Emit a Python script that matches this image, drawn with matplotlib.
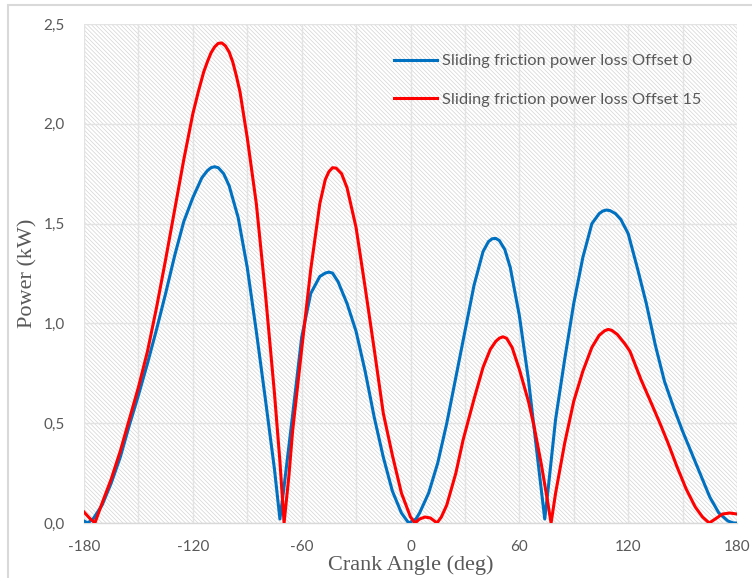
import matplotlib
matplotlib.use("Agg")
import matplotlib.pyplot as plt
from matplotlib.patches import Rectangle

# crank angle (deg) and sliding friction power loss (kW)
angle_off0 = [-180, -178, -175, -170, -165, -160, -155, -150, -145, -140, -135, -130,
              -125, -120, -115, -112, -110, -108, -106, -103, -100, -95, -90, -85, -80, -75,
              -72, -70, -65, -60, -55, -50, -47, -45, -43, -40, -35, -30, -25, -20, -15, -10,
              -5, -1, 3, 5, 10, 15, 20, 25, 30, 35, 40, 43, 45, 47, 49, 52, 55, 60, 65, 70,
              74, 76, 80, 85, 90, 95, 100, 104, 106, 108, 110, 113, 116, 120, 125, 130, 135, 140,
              145, 150, 155, 160, 165, 170, 175, 178, 180]
power_off0 = [0.01, 0.0, 0.02, 0.09, 0.2, 0.33, 0.49, 0.64, 0.8, 0.97, 1.15, 1.34,
              1.51, 1.63, 1.73, 1.765, 1.78, 1.785, 1.78, 1.75, 1.69, 1.53, 1.28, 0.96, 0.62, 0.27,
              0.02, 0.16, 0.54, 0.93, 1.15, 1.235, 1.252, 1.257, 1.252, 1.21, 1.1, 0.96, 0.76, 0.53, 0.33, 0.16,
              0.05, 0.0, 0.02, 0.05, 0.15, 0.3, 0.5, 0.73, 0.96, 1.19, 1.36, 1.41, 1.424, 1.426, 1.415, 1.37, 1.28, 1.04, 0.72, 0.33,
              0.02, 0.18, 0.52, 0.82, 1.1, 1.33, 1.5, 1.55, 1.563, 1.568, 1.565, 1.55, 1.52, 1.45, 1.28, 1.1, 0.89, 0.71,
              0.58, 0.46, 0.35, 0.24, 0.13, 0.05, 0.01, 0.0, 0.0]

angle_off15 = [-180, -177, -174, -170, -165, -160, -155, -150, -145, -140, -135, -130,
               -125, -120, -117, -114, -112, -110, -108, -106, -104, -102, -100, -98, -96, -94,
               -90, -85, -80, -75, -72, -69.7, -67, -65, -60, -55, -50, -47, -45, -43, -41, -38,
               -35, -30, -25, -20, -15, -10, -5, 0, 2.5, 5, 8, 11, 14.6, 17, 20, 25, 29, 35, 40,
               44, 47, 49, 51, 53, 56, 60, 65, 68, 72, 75, 77.5, 80, 85, 90, 95, 100, 104, 107,
               109, 111, 114, 118, 121, 127, 132, 137.5, 142, 147, 152, 157, 161, 164.7, 168,
               172, 176, 180]
power_off15 = [0.055, 0.025, 0.0, 0.1, 0.22, 0.36, 0.52, 0.68, 0.86, 1.08, 1.32, 1.57,
               1.82, 2.05, 2.16, 2.26, 2.31, 2.355, 2.385, 2.403, 2.405, 2.39, 2.36, 2.31, 2.24, 2.16,
               1.93, 1.6, 1.15, 0.65, 0.31, 0.0, 0.24, 0.46, 0.87, 1.27, 1.6, 1.72, 1.76, 1.78, 1.778, 1.75,
               1.68, 1.48, 1.18, 0.87, 0.55, 0.34, 0.15, 0.03, 0.0, 0.02, 0.03, 0.025, 0.0, 0.03, 0.09, 0.25, 0.416, 0.62, 0.78,
               0.87, 0.91, 0.926, 0.933, 0.925, 0.88, 0.77, 0.61, 0.49, 0.3, 0.14, 0.0, 0.15, 0.4, 0.61, 0.76, 0.88, 0.94, 0.963,
               0.97, 0.965, 0.945, 0.9, 0.86, 0.72, 0.616, 0.5, 0.4, 0.28, 0.17, 0.08, 0.03, 0.0, 0.02,
               0.045, 0.05, 0.045]

xticks = [-180, -120, -60, 0, 60, 120, 180]
yticks = [0.0, 0.5, 1.0, 1.5, 2.0, 2.5]
ytick_labels = ["0,0", "0,5", "1,0", "1,5", "2,0", "2,5"]
labels = ["Sliding friction power loss Offset 0", "Sliding friction power loss Offset 15"]

plt.rcParams["hatch.linewidth"] = 0.5
plt.rcParams["hatch.color"] = "#d4d4d4"

fig = plt.figure(figsize=(7.52, 5.78), dpi=100)
ax = fig.add_axes([84 / 752, 1 - 523 / 578, (737 - 84) / 752, (523 - 24) / 578])

# outer chart border (left and top visible)
fig.patches.append(Rectangle((8 / 752, -0.1), 1.0, 0.1 + (578 - 5.5) / 578, transform=fig.transFigure,
                             fill=False, edgecolor="#d9d9d9", linewidth=1.5))

# hatched plot area
ax.add_patch(Rectangle((0, 0), 1, 1, transform=ax.transAxes, facecolor="white",
                       edgecolor="#d4d4d4", hatch="\\" * 8, linewidth=0, zorder=0))

ax.plot(angle_off0, power_off0, color="#0070C0", lw=2.2, label=labels[0], zorder=3)
ax.plot(angle_off15, power_off15, color="#FF0000", lw=2.2, label=labels[1], zorder=4)

ax.set_xlim(-180, 180)
ax.set_ylim(0, 2.5)
ax.set_xticks(range(-180, 181, 30), minor=True)
ax.set_xticks(xticks)
ax.set_xticklabels([str(t) for t in xticks])
ax.set_yticks(yticks)
ax.set_yticklabels(ytick_labels)
ax.grid(True, which="both", axis="x", color="#e3e3e3", lw=1.0, zorder=1)
ax.grid(True, axis="y", color="#e3e3e3", lw=1.0, zorder=1)
ax.set_axisbelow(True)
ax.tick_params(which="both", length=0, labelsize=11, labelcolor="#595959")
ax.tick_params(axis="x", pad=12)
ax.tick_params(axis="y", pad=14)
for lab in ax.get_xticklabels() + ax.get_yticklabels():
    lab.set_fontfamily("Lato")

for s in ["left", "right", "top"]:
    ax.spines[s].set_visible(False)
ax.spines["bottom"].set_color("#d9d9d9")
ax.spines["bottom"].set_linewidth(1.0)

ax.set_xlabel("Crank Angle (deg)", family="Liberation Serif", fontsize=16, color="#595959", labelpad=1)
ax.set_ylabel("Power (kW)", family="Liberation Serif", fontsize=16, color="#595959", labelpad=4)

leg = ax.legend(loc="upper left", bbox_to_anchor=(394 / 752, 1 - 54 / 578), bbox_transform=fig.transFigure,
                frameon=False, borderpad=0, borderaxespad=0, handlelength=2.6, handletextpad=0.3,
                labelspacing=1.45, prop={"family": "Lato", "size": 11.8})
for t in leg.get_texts():
    t.set_color("#595959")

fig.savefig("out.png", dpi=100)
